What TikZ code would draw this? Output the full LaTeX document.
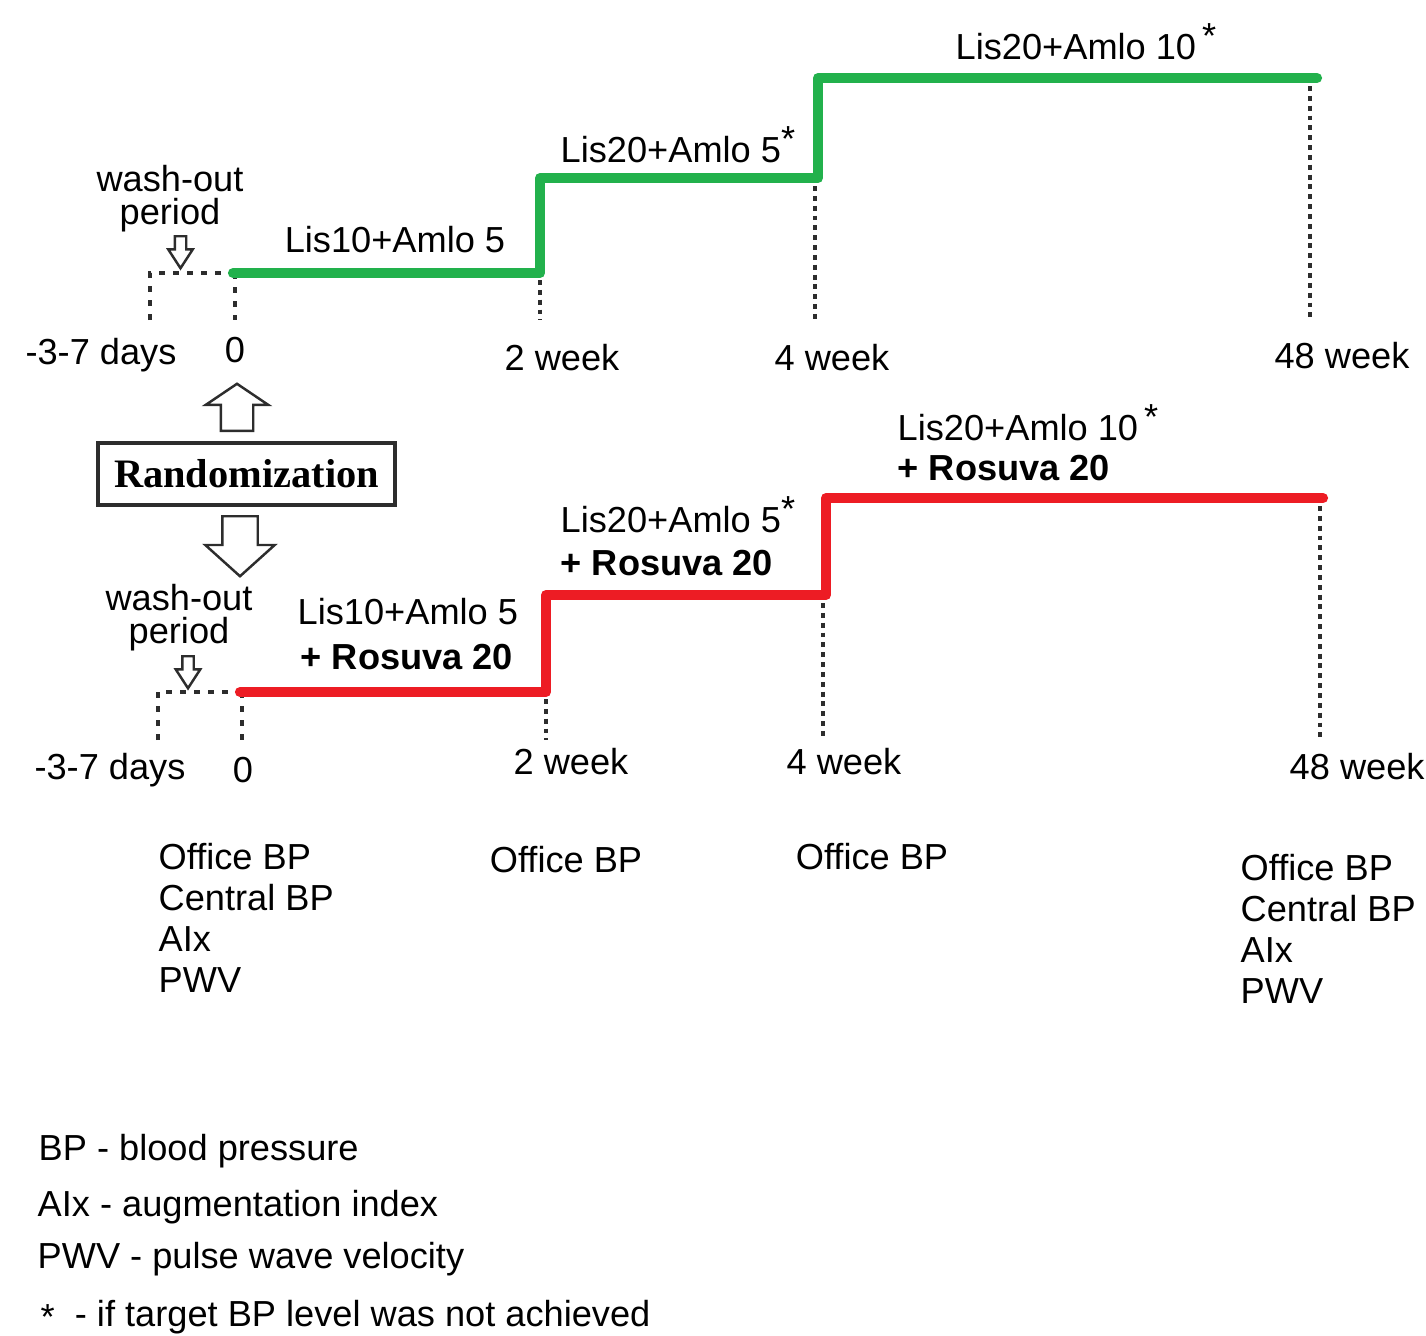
\documentclass[tikz,border=0pt]{standalone}
\usepackage{fontspec}
\setmainfont{Liberation Sans}
\newfontfamily\boxfont{Liberation Serif}
\usepackage{tikz}
\usetikzlibrary{shapes.arrows, positioning}

\definecolor{stepgreen}{RGB}{34,177,76}
\definecolor{stepred}{RGB}{237,28,36}
\definecolor{inkgray}{RGB}{45,45,45}

\newcommand{\notmet}{\raisebox{0.55ex}{*}}

\begin{document}
\begin{tikzpicture}[
	every node/.style={font=\fontsize{10.3}{11.6}\selectfont, inner sep=0pt},
	bold/.style={font=\fontsize{10.3}{11.6}\selectfont\bfseries},
	greenstep/.style={stepgreen, line width=2.9pt, line cap=round, line join=round},
	redstep/.style={stepred, line width=2.9pt, line cap=round, line join=round},
	washout/.style={inkgray, line width=1.1pt, dash pattern=on 1.6pt off 2.4pt},
	tick/.style={inkgray, line width=0.9pt, dash pattern=on 1.4pt off 1.4pt},
	hollow/.style={single arrow, draw=inkgray, fill=white, line width=0.7pt, single arrow head indent=0pt}
	]
	\useasboundingbox (0,0) rectangle (14.26,-13.35);
	
	% upper arm
	\coordinate (g0) at (2.33,-2.73);
	\coordinate (g1) at (5.40,-1.78);
	\coordinate (g2) at (8.18,-0.78);
	\coordinate (g3) at (13.17,-0.78);
	\coordinate (gw) at (1.50,-3.20);
	\coordinate (gt0) at (2.35,-3.20);
	\coordinate (gt1) at (5.40,-3.20);
	\coordinate (gt2) at (8.15,-3.20);
	\coordinate (gt3) at (13.10,-3.20);
	
	\draw[washout] (gw) |- (g0);
	\draw (g0 -| gt0) edge[washout] (gt0)
	      (5.40,-2.80) edge[tick] (gt1)
	      (8.15,-1.86) edge[tick] (gt2)
	      (13.10,-0.86) edge[tick] (gt3);
	\draw[greenstep] (g0) -| (g1) -| (g2) -- (g3);
	
	\node[align=center] (wash1) at (1.70,-1.99) {wash-out\\[-2.2pt]period};
	\node[hollow, rotate=-90, anchor=tail, minimum height=0.32cm, inner ysep=0.045cm,
	      single arrow head extend=0.065cm, single arrow tip angle=66] (wa1) at (1.805,-2.35) {};
	
	\node[anchor=base] (d1) at (1.01,-3.645) {-3-7 days};
	\node[anchor=base] (z1) at (2.35,-3.625) {0};
	\node[anchor=base] (w21) at (5.62,-3.70) {2 week};
	\node[anchor=base] (w41) at (8.32,-3.70) {4 week};
	\node[anchor=base] (w481) at (13.42,-3.68) {48 week};
	
	\node[anchor=base] (a1) at (3.95,-2.525) {Lis10+Amlo 5};
	\node[anchor=base west] (b1) at (5.60,-1.62) {Lis20+Amlo 5\notmet};
	\node[anchor=base west] (c1) at (9.55,-0.59) {Lis20+Amlo 10\,\notmet};
	
	% randomization
	\node[draw=inkgray, line width=0.9pt, minimum width=2.97cm, minimum height=0.62cm,
	      font=\boxfont\fontsize{11.5}{13}\selectfont\bfseries] (rand) at (2.465,-4.74) {Randomization};
	\node[hollow, rotate=90, anchor=tail, minimum height=0.47cm, inner ysep=0.15cm,
	      single arrow head extend=0.15cm, single arrow tip angle=112] (up) at (2.37,-4.32) {};
	\node[hollow, rotate=-90, anchor=tail, minimum height=0.60cm, inner ysep=0.165cm,
	      single arrow head extend=0.17cm, single arrow tip angle=96] (down) at (2.40,-5.15) {};
	
	% lower arm
	\coordinate (r0) at (2.40,-6.92);
	\coordinate (r1) at (5.46,-5.95);
	\coordinate (r2) at (8.26,-4.98);
	\coordinate (r3) at (13.23,-4.98);
	\coordinate (rw) at (1.58,-7.40);
	\coordinate (rt0) at (2.42,-7.40);
	\coordinate (rt1) at (5.46,-7.40);
	\coordinate (rt2) at (8.23,-7.40);
	\coordinate (rt3) at (13.20,-7.40);
	
	\draw[washout] (rw) |- (r0);
	\draw (r0 -| rt0) edge[washout] (rt0)
	      (5.46,-6.99) edge[tick] (rt1)
	      (8.23,-6.03) edge[tick] (rt2)
	      (13.20,-5.06) edge[tick] (rt3);
	\draw[redstep] (r0) -| (r1) -| (r2) -- (r3);
	
	\node[align=center] (wash2) at (1.79,-6.18) {wash-out\\[-2.2pt]period};
	\node[hollow, rotate=-90, anchor=tail, minimum height=0.32cm, inner ysep=0.045cm,
	      single arrow head extend=0.065cm, single arrow tip angle=66] (wa2) at (1.88,-6.55) {};
	
	\node[anchor=base] (d2) at (1.10,-7.79) {-3-7 days};
	\node[anchor=base] (z2) at (2.43,-7.82) {0};
	\node[anchor=base] (w22) at (5.71,-7.74) {2 week};
	\node[anchor=base] (w42) at (8.44,-7.74) {4 week};
	\node[anchor=base west] (w482) at (12.89,-7.79) {48 week};
	
	\node[anchor=base west] (a2) at (2.97,-6.245) {Lis10+Amlo 5};
	\node[anchor=base west, bold] (a2r) at (3.00,-6.69) {+ Rosuva 20};
	\node[anchor=base west] (b2) at (5.60,-5.32) {Lis20+Amlo 5\notmet};
	\node[anchor=base west, bold] (b2r) at (5.60,-5.75) {+ Rosuva 20};
	\node[anchor=base west] (c2) at (8.97,-4.40) {Lis20+Amlo 10\,\notmet};
	\node[anchor=base west, bold] (c2r) at (8.97,-4.80) {+ Rosuva 20};
	
	% measurements
	\node[anchor=north west, align=left] (m0) at (1.58,-8.43) {Office BP\\Central BP\\AIx\\PWV};
	\node (m2) at (5.66,-8.60) {Office BP};
	\node (m4) at (8.72,-8.57) {Office BP};
	\node[anchor=north west, align=left] (m48) at (12.40,-8.54) {Office BP\\Central BP\\AIx\\PWV};
	
	% legend
	\node[anchor=base west] (l1) at (0.38,-11.60) {BP - blood pressure};
	\node[anchor=base west] (l2) at (0.37,-12.16) {AIx - augmentation index};
	\node[anchor=base west] (l3) at (0.37,-12.68) {PWV - pulse wave velocity};
	\node[anchor=base west] (l4) at (0.40,-13.26) {\raisebox{-0.2ex}{*}\ \ - if target BP level was not achieved};
\end{tikzpicture}
\end{document}
